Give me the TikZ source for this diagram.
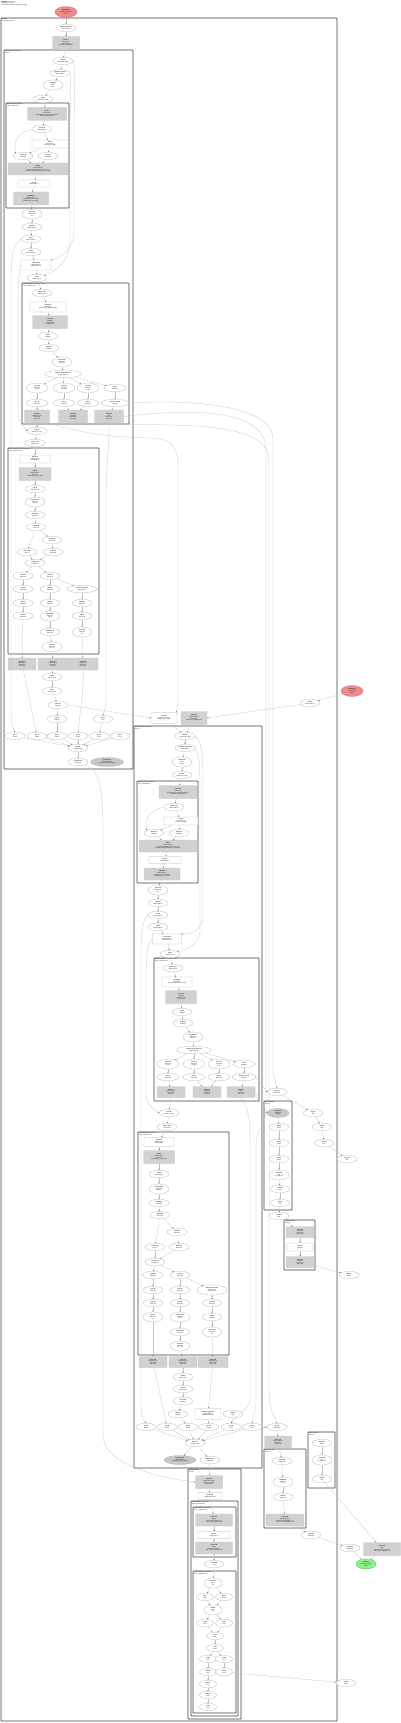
\documentclass[tikz,border=0pt]{standalone}
\usepackage{fontspec}
\setmainfont{Liberation Sans}
\usetikzlibrary{shapes.geometric,arrows.meta}
\definecolor{redfill}{HTML}{F08A8A}
\definecolor{redline}{HTML}{C85A5A}
\definecolor{grnfill}{HTML}{8CF08C}
\definecolor{grnline}{HTML}{4CAA4C}
\definecolor{boxline}{HTML}{B4B4B4}
\newcommand\fs{\fontsize{1.3}{1.6}\selectfont}
\newcommand\lb[2]{\textbf{#1}\\#2}
\newcommand\lc[3]{\textbf{#1}\\#2\\#3}
\newcommand\nE[4][]{\node[ell,#1] (#2) at (#3) {#4};}
\newcommand\nW[4][]{\node[wbox,#1] (#2) at (#3) {#4};}
\newcommand\nG[4][]{\node[gbox,#1] (#2) at (#3) {#4};}
\newcommand\clu[5]{\draw[clus] (#2) rectangle (#3); \node[clab] (#1) at (#2) {#4\\#5};}
\newcommand\ed[2]{\draw[edge] (#1) -- (#2);}
\begin{document}
\begin{tikzpicture}[x=1pt,y=-1pt,
  ell/.style={ellipse,draw=black!35,line width=0.2pt,minimum width=20pt,minimum height=7.5pt,inner sep=0pt,align=center,font=\fs,fill=white},
  e3/.style={minimum height=10pt},
  wbox/.style={rectangle,rounded corners=0.3pt,draw=boxline,line width=0.25pt,inner sep=0.4pt,align=center,font=\fs,fill=white},
  gbox/.style={rectangle,rounded corners=0.3pt,draw=black!22,fill=black!18,line width=0.2pt,inner sep=0.4pt,align=center,font=\fs},
  gell/.style={fill=black!22},
  redn/.style={fill=redfill,draw=redline,minimum width=22pt,minimum height=11pt},
  grnn/.style={fill=grnfill,draw=grnline,minimum width=20pt,minimum height=10pt},
  clus/.style={draw=black!75,line width=0.55pt,rounded corners=0.4pt},
  clab/.style={anchor=north west,inner sep=0.8pt,align=left,font=\fs},
  edge/.style={draw=black!25,line width=0.22pt,-{Stealth[length=1.4pt,width=1.1pt,color=black!60]}},
]
\fill[white] (0,0) rectangle (400,1723);
\useasboundingbox (0,0) rectangle (400,1723);

\node[clab,inner sep=1pt] (hdr) at (0,0) {\textbf{HloModule} jit\_train\_step\\Computation main.84\\entry computation layout: (f32[64,128], s32[])};

% clusters
\clu{lo}{1,18}{337,1721}{\textbf{main.84}}{Computation main.84}
\clu{lA}{4,50}{133,769}{Subcomputation for while.3}{body.12}
\clu{lA1}{6,103}{69,208}{Subcomputation for fusion.7}{fused\_computation.7}
\clu{lA2}{22,283}{129,424}{Subcomputation for reduce.21 / fusion}{fused\_computation.21}
\clu{lA3}{8,448}{99,654}{Subcomputation for fusion.30 (kLoop)}{fused\_computation.30}
\clu{lB}{134,726}{262,1468}{Subcomputation for while.44}{body.44}
\clu{lB1}{137,781}{198,883}{Subcomputation for fusion.47}{fused\_computation.47}
\clu{lB2}{154,958}{259,1101}{Subcomputation for reduce.61 / fusion}{fused\_computation.61}
\clu{lB3}{138,1132}{229,1355}{Subcomputation for fusion.70}{fused\_computation.70}
\clu{lC}{188,1469}{241,1719}{Subcomputation}{cond.80}
\clu{lC1}{191,1501}{238,1716}{Subcomputation for fusion.81}{fused\_computation.81}
\clu{lC1a}{193,1507}{236,1557}{Subcomputation for fusion.82}{fused\_computation.82}
\clu{lC1b}{193,1571}{236,1713}{Subcomputation for reduce.83}{fused\_computation.83}
\clu{lD}{264,1101}{292,1210}{Subcomputation}{fusion.72}
\clu{lE}{284,1220}{315,1270}{Subcomputation}{fusion.74}
\clu{lF}{264,1449}{306,1528}{Subcomputation}{fusion.76}
\clu{lG}{308,1432}{335,1488}{Subcomputation}{fusion.78}

% top
\nE[redn]{p0}{66,12}{\lc{Parameter 0}{(f32[64,128], s32[])}{index=0}}
\nE{n1}{66,28}{\lb{get-tuple-element.1}{f32[64,128]\{1,0\}}}
\nG[minimum width=27pt,minimum height=13pt]{g1}{66,43}{\textbf{fusion.2}\\kind=kLoop\\f32[64,128]\{1,0\}\\calls fused\_computation.2}

% cluster A
\nE{a1}{63,61}{\lb{while.3}{(f32[64,128], s32[])}}
\nE{a2}{60,73}{\lb{get-tuple-element.4}{f32[64,128]\{1,0\}}}
\nE[e3]{a3}{53,85}{\lc{constant.5}{s32[] 1}{index=1}}
\nE{a4}{43,99}{\lb{tuple.6}{(f32[64,128], s32[])}}
\nG[minimum width=39pt,minimum height=13pt]{a5}{47,114}{\textbf{fusion.7}\\kind=kLoop\\f32[64,128]\{1,0\} dynamic-update-slice\\calls fused\_computation.7}
\nE{a6}{42,129}{\lb{param\_0.8}{f32[64,128]\{1,0\}}}
\nW[minimum width=36pt,minimum height=8pt]{a7}{50,144}{\textbf{slice.9}\\f32[1,128]\{1,0\}\\slice=\{[0:1], [0:128]\}}
\nE{a8}{23,156}{\lb{bitcast.10}{f32[128]\{0\}}}
\nE{a9}{48,156}{\lb{bitcast.11}{f32[128]\{0\}}}
\nG[minimum width=60pt,minimum height=12pt]{a10}{38,169}{\textbf{add.12}\\f32[64,128]\{1,0\}\\broadcast(f32[128]), dims=\{1\} add(x, y)\\metadata=\{op\_type=AddV2 op\_name=add\}}
\nW[minimum width=32pt,minimum height=7pt]{a11}{34,183.5}{\textbf{copy.13}\\f32[64,128]\{0,1\}}
\nG[minimum width=35pt,minimum height=13pt]{a12}{31,198.5}{\textbf{multiply.14}\\f32[64,128]\{1,0\}\\multiply(param\_1, constant)\\metadata=\{op\_name=mul\}}
\nE[e3]{a13}{32,214}{\lc{convert.15}{f32[64,128]}{s32}}
\nE{a14}{32,227}{\lb{negate.16}{f32[64,128]\{1,0\}}}
\nE{a15}{31,239}{\lb{exp.17}{f32[64,128]\{1,0\}}}
\nE{a16}{31,252}{\lb{log.18}{f32[64,128]\{1,0\}}}
\nW[minimum width=30pt,minimum height=10pt]{a17}{36,265}{\textbf{transpose.19}\\f32[128,64]\{1,0\}\\dimensions=\{1,0\}}
\nE{a18}{37,278}{\lb{dot.20}{f32[64,64]\{1,0\}}}
\nE{b1}{42,293}{\lb{param\_0.22}{f32[64,64]\{1,0\}}}
\nW[minimum width=36pt,minimum height=10pt]{b2}{48,307}{\textbf{reshape.23}\\f32[4096]\{0\}\\metadata=\{op\_name=reshape\}}
\nG[minimum width=35pt,minimum height=13pt]{b3}{50,322}{\textbf{reduce.24}\\f32[64]\{0\}\\dimensions=\{1\}\\to\_apply=add}
\nE{b4}{48,336}{\lb{sqrt.25}{f32[64]\{0\}}}
\nE{b5}{49,348}{\lb{divide.26}{f32[64]\{0\}}}
\nE[e3]{b6}{62,362}{\lc{broadcast.27}{f32[64,64]}{dims=\{0\}}}
\nE[minimum width=37pt]{b7}{63,374}{\lb{compare.28 direction=GT}{pred[64,64]\{1,0\}}}
\nE[e3,minimum width=22pt]{b8}{37,388}{\lc{select.29}{f32[64,64]}{on\_true}}
\nE[e3,minimum width=22pt]{b9}{64,388}{\lc{select.30}{f32[64,64]}{on\_false}}
\nE[e3,minimum width=22pt]{b10}{88,388}{\lc{select.31}{f32[64,64]}{mask}}
\nE[minimum width=22pt]{b11}{115,388}{\lb{iota.32}{s32[64]\{0\}}}
\nE[minimum width=22pt]{b12}{37,403}{\lb{max.33}{f32[64,64]}}
\nE[minimum width=22pt]{b13}{64,403}{\lb{min.34}{f32[64,64]}}
\nE[minimum width=22pt]{b14}{88,403}{\lb{abs.35}{f32[64,64]}}
\nE[minimum width=28pt]{b15}{115,403}{\lb{dynamic-slice.36}{s32[1]\{0\}}}
\nG[minimum width=25pt,minimum height=13pt]{b16}{37,416.5}{\textbf{fusion.37}\\f32[64,64]\{1,0\}\\kind=kLoop\\calls fc.37}
\nG[minimum width=29pt,minimum height=13pt]{b17}{73,416.5}{\textbf{fusion.38}\\f32[64]\{0\}\\kind=kInput\\calls fc.38}
\nG[minimum width=29pt,minimum height=13pt]{b18}{109,416.5}{\textbf{fusion.39}\\s32[]\\kind=kLoop\\calls fc.39}
\nE{a19}{37,431}{\lb{tuple.40}{(f32[64,64], s32[])}}
\nE{a20}{35,443}{\lb{param\_0.41}{(f32[64,64])}}
\nW[minimum width=30pt,minimum height=8pt]{c1}{35,459}{\textbf{bitcast.42}\\f32[64,64]\{1,0\}\\bitcast(param)}
\nG[minimum width=32pt,minimum height=13pt]{c2}{35,474}{\textbf{add.43}\\f32[64,64]\{1,0\}\\add(x, y)\\metadata=\{op\_name=add\}}
\nE{c3}{35,489}{\lb{exp.44}{f32[64,64]\{1,0\}}}
\nE[e3]{c4}{35,502}{\lc{broadcast.45}{f32[64,64]}{dims=\{\}}}
\nE{c5}{35,515}{\lb{multiply.46}{f32[64,64]}}
\nE{c6}{36,527}{\lb{subtract.47}{f32[64,64]}}
\nE{c7}{52,540}{\lb{negate.48}{f32[64,64]}}
\nE{c8}{27,552}{\lb{constant.49}{f32[] 0.5}}
\nE{c9}{53,552}{\lb{power.50}{f32[64,64]}}
\nE{c10}{35,563}{\lb{compare.51}{pred[64,64]}}
\nE{c11}{23,576}{\lb{select.52}{f32[64,64]}}
\nE{c12}{50,576}{\lb{select.53}{f32[64,64]}}
\nE{c13}{23,589}{\lb{tanh.54}{f32[64,64]}}
\nE{c14}{50,589}{\lb{tanh.55}{f32[64,64]}}
\nE[minimum width=30pt]{c15}{82,589}{\lb{reduce-precision.56}{f32[64,64]\{1,0\}}}
\nE{c16}{23,603}{\lb{rsqrt.57}{f32[64,64]}}
\nE{c17}{50,603}{\lb{rsqrt.58}{f32[64,64]}}
\nE{c18}{82,603}{\lb{round.59}{f32[64,64]}}
\nE{c19}{23,616}{\lb{floor.60}{f32[64,64]}}
\nE[e3]{c20}{50,616}{\lc{maximum.61}{f32[64,64]}{clamp}}
\nE{c21}{82,616}{\lb{ceil.62}{f32[64,64]}}
\nE{c22}{50,632}{\lb{minimum.63}{f32[64,64]}}
\nE[e3]{c23}{82,632}{\lc{convert.64}{s32[64,64]}{f32}}
\nE[e3]{c24}{52,647}{\lc{clamp.65}{f32[64,64]}{(lo, x, hi)}}
\nG[minimum width=28pt,minimum height=12pt]{d1}{22,664}{\textbf{fusion.66}\\f32[64,64]\{1,0\}\\kind=kLoop\\calls fc.66}
\nG[minimum width=30pt,minimum height=12pt]{d2}{53,664}{\textbf{fusion.67}\\f32[64,64]\{1,0\}\\kind=kLoop\\calls fc.67}
\nG[minimum width=30pt,minimum height=12pt]{d3}{83,664}{\textbf{fusion.68}\\f32[64,64]\{1,0\}\\kind=kLoop\\calls fc.68}
\nE{d4}{52,677}{\lb{add.69}{f32[64,64]\{1,0\}}}
\nE{d5}{52,691}{\lb{sub.70}{f32[64,64]\{1,0\}}}
\nE{d6}{58,705}{\lb{reduce.71}{f32[64]\{0\}}}
\nE{d7}{57,719}{\lb{sqrt.72}{f32[64]\{0\}}}
\nE{d8}{103,719}{\lb{add.73}{s32[]}}
\nE{e1}{15,736}{\lb{gte.74}{f32[64]}}
\nE{e2}{37,736}{\lb{gte.75}{f32[64]}}
\nE{e3}{57,736}{\lb{gte.76}{f32[64]}}
\nE{e4}{78,736}{\lb{gte.77}{f32[64]}}
\nE{e5}{99,736}{\lb{gte.78}{s32[]}}
\nE{e6}{120,736}{\lb{gte.79}{s32[]}}
\nE{e7}{78,748}{\lb{tuple.80}{(f32[64], s32[])}}
\nE{e8}{78,762}{\lb{transpose.81}{f32[64,128]}}
\nE[gell,minimum width=33pt,minimum height=9pt]{e9}{107,762}{\lc{parameter.82}{f32[64,128]\{1,0\}}{(f32[64,128], s32[], f32[64])}}

% middle
\nW[minimum width=26pt,minimum height=11pt]{m1}{164,718}{\textbf{tuple.85}\\(f32[64,128], s32[])\\tuple(gte.0, gte.1, gte.2)}
\nG[minimum width=26pt,minimum height=13pt]{m2}{194,718}{\textbf{fusion.86}\\f32[64,128]\{1,0\}\\kind=kLoop\\calls fused\_computation.86}
\nE{m3}{310,703}{\lb{copy.87}{f32[64,128]\{1,0\}}}
\nE[redn]{p1}{352,691}{\lc{Parameter 1}{f32[64,128]}{index=1}}

% cluster B
\nE{f1}{185,736}{\lb{while.44}{(f32[64,128], s32[])}}
\nE{f2}{185,748}{\lb{get-tuple-element.45}{f32[64,128]\{1,0\}}}
\nE[e3]{f3}{182,762}{\lc{constant.46}{s32[] 1}{index=1}}
\nE{f4}{182,775}{\lb{tuple.47}{(f32[64,128], s32[])}}
\nG[minimum width=38pt,minimum height=13pt]{f5}{178,792}{\textbf{fusion.48}\\kind=kLoop\\f32[64,128]\{1,0\} dynamic-update-slice\\calls fused\_computation.48}
\nE{f6}{174,807}{\lb{param\_0.49}{f32[64,128]\{1,0\}}}
\nW[minimum width=34pt,minimum height=8pt]{f7}{181,821}{\textbf{slice.50}\\f32[1,128]\{1,0\}\\slice=\{[0:1], [0:128]\}}
\nE{f8}{154,833}{\lb{bitcast.51}{f32[128]\{0\}}}
\nE{f9}{179,833}{\lb{bitcast.52}{f32[128]\{0\}}}
\nG[minimum width=58pt,minimum height=12pt]{f10}{168,846}{\textbf{add.53}\\f32[64,128]\{1,0\}\\broadcast(f32[128]), dims=\{1\} add(x, y)\\metadata=\{op\_type=AddV2 op\_name=add\}}
\nW[minimum width=32pt,minimum height=7pt]{f11}{165,860}{\textbf{copy.54}\\f32[64,128]\{0,1\}}
\nG[minimum width=36pt,minimum height=12pt]{f12}{162,874}{\textbf{multiply.55}\\f32[64,128]\{1,0\}\\multiply(param\_1, constant)\\metadata=\{op\_name=mul\}}
\nE[e3]{f13}{158,890}{\lc{convert.56}{f32[64,128]}{s32}}
\nE{f14}{158,903}{\lb{negate.57}{f32[64,128]\{1,0\}}}
\nE{f15}{158,915}{\lb{exp.58}{f32[64,128]\{1,0\}}}
\nE{f16}{158,927}{\lb{log.59}{f32[64,128]\{1,0\}}}
\nW[minimum width=29pt,minimum height=10pt]{f17}{167,939}{\textbf{transpose.60}\\f32[128,64]\{1,0\}\\dimensions=\{1,0\}}
\nE{f18}{170,954}{\lb{dot.61}{f32[64,64]\{1,0\}}}
\nE{h1}{173,968}{\lb{param\_0.62}{f32[64,64]\{1,0\}}}
\nW[minimum width=30pt,minimum height=10pt]{h2}{177,982}{\textbf{reshape.63}\\f32[4096]\{0\}\\metadata=\{op\_name=reshape\}}
\nG[minimum width=31pt,minimum height=13pt]{h3}{181,997}{\textbf{reduce.64}\\f32[64]\{0\}\\dimensions=\{1\}\\to\_apply=add}
\nE{h4}{182,1012}{\lb{sqrt.65}{f32[64]\{0\}}}
\nE{h5}{183,1023}{\lb{divide.66}{f32[64]\{0\}}}
\nE[e3]{h6}{193,1037}{\lc{broadcast.67}{f32[64,64]}{dims=\{0\}}}
\nE[minimum width=35pt]{h7}{194,1050}{\lb{compare.68 direction=GT}{pred[64,64]\{1,0\}}}
\nE[e3,minimum width=22pt]{h8}{168,1064}{\lc{select.69}{f32[64,64]}{on\_true}}
\nE[e3,minimum width=22pt]{h9}{194,1064}{\lc{select.70}{f32[64,64]}{on\_false}}
\nE[e3,minimum width=22pt]{h10}{219,1064}{\lc{select.71}{f32[64,64]}{mask}}
\nE[minimum width=22pt]{h11}{244,1064}{\lb{iota.72}{s32[64]\{0\}}}
\nE[minimum width=22pt]{h12}{168,1077}{\lb{max.73}{f32[64,64]}}
\nE[minimum width=22pt]{h13}{194,1077}{\lb{min.74}{f32[64,64]}}
\nE[minimum width=22pt]{h14}{219,1077}{\lb{abs.75}{f32[64,64]}}
\nE[minimum width=24pt]{h15}{244,1077}{\lb{dynamic-slice.76}{s32[1]\{0\}}}
\nG[minimum width=28pt,minimum height=11pt]{h16}{171,1092}{\textbf{fusion.77}\\f32[64,64]\{1,0\}\\kind=kLoop\\calls fc.77}
\nG[minimum width=28pt,minimum height=11pt]{h17}{207,1092}{\textbf{fusion.78}\\f32[64]\{0\}\\kind=kInput\\calls fc.78}
\nG[minimum width=28pt,minimum height=11pt]{h18}{241,1092}{\textbf{fusion.79}\\s32[]\\kind=kLoop\\calls fc.79}
\nE{i1}{169,1113}{\lb{tuple.80}{(f32[64,64], s32[])}}
\nE{i2}{167,1127}{\lb{param\_0.81}{(f32[64,64])}}
\nW[minimum width=30pt,minimum height=9pt]{j1}{159,1142}{\textbf{bitcast.82}\\f32[64,64]\{1,0\}\\bitcast(param)}
\nG[minimum width=31pt,minimum height=13pt]{j2}{159,1157}{\textbf{add.83}\\f32[64,64]\{1,0\}\\add(x, y)\\metadata=\{op\_name=add\}}
\nE{j3}{159,1174}{\lb{exp.84}{f32[64,64]\{1,0\}}}
\nE[e3]{j4}{159,1189}{\lc{broadcast.85}{f32[64,64]}{dims=\{\}}}
\nE{j5}{159,1203}{\lb{multiply.86}{f32[64,64]}}
\nE{j6}{160,1215}{\lb{subtract.87}{f32[64,64]}}
\nE{j7}{177,1232}{\lb{negate.88}{f32[64,64]}}
\nE{j8}{155,1247}{\lb{constant.89}{f32[] 0.5}}
\nE{j9}{179,1247}{\lb{power.90}{f32[64,64]}}
\nE{j10}{155,1262}{\lb{compare.91}{pred[64,64]}}
\nE{j11}{153,1275}{\lb{select.92}{f32[64,64]}}
\nE{j12}{180,1275}{\lb{select.93}{f32[64,64]}}
\nE{j13}{153,1290}{\lb{tanh.94}{f32[64,64]}}
\nE{j14}{180,1290}{\lb{tanh.95}{f32[64,64]}}
\nE[e3,minimum width=30pt]{j15}{212,1290}{\lc{reduce-precision.96}{f32[64,64]\{1,0\}}{exp=8 mant=7}}
\nE{j16}{153,1303}{\lb{rsqrt.97}{f32[64,64]}}
\nE{j17}{180,1303}{\lb{rsqrt.98}{f32[64,64]}}
\nE{j18}{212,1303}{\lb{round.99}{f32[64,64]}}
\nE[e3]{j19}{153,1317}{\lc{floor.100}{f32[64,64]}{f32}}
\nE[e3]{j20}{180,1317}{\lc{maximum.101}{f32[64,64]}{clamp}}
\nE{j21}{212,1317}{\lb{ceil.102}{f32[64,64]}}
\nE{j22}{180,1332}{\lb{minimum.103}{f32[64,64]}}
\nE[e3]{j23}{212,1332}{\lc{convert.104}{s32[64,64]}{f32}}
\nE[e3]{j24}{180,1346}{\lc{clamp.105}{f32[64,64]}{(lo, x, hi)}}
\nG[minimum width=28pt,minimum height=11pt]{k1}{153,1362}{\textbf{fusion.106}\\f32[64,64]\{1,0\}\\kind=kLoop\\calls fc.106}
\nG[minimum width=28pt,minimum height=11pt]{k2}{183,1362}{\textbf{fusion.107}\\f32[64,64]\{1,0\}\\kind=kLoop\\calls fc.107}
\nG[minimum width=30pt,minimum height=11pt]{k3}{213,1362}{\textbf{fusion.108}\\f32[64,64]\{1,0\}\\kind=kLoop\\calls fc.108}
\nE{k4}{183,1377}{\lb{add.109}{f32[64,64]\{1,0\}}}
\nE{k5}{183,1389}{\lb{sub.110}{f32[64,64]\{1,0\}}}
\nE{k6}{183,1401}{\lb{reduce.111}{f32[64]\{0\}}}
\nE{k7}{178,1414}{\lb{sqrt.112}{f32[64]\{0\}}}
\nW[minimum width=26pt,minimum height=11pt]{k8}{208,1414}{\textbf{dynamic-update.113}\\f32[64,128]\{1,0\}\\update(operand, idx)}
\nE{k9}{233,1414}{\lb{add.114}{s32[]}}
\nE{k10}{146,1427}{\lb{gte.115}{f32[64]}}
\nE{k11}{167,1427}{\lb{gte.116}{f32[64]}}
\nE{k12}{188,1427}{\lb{gte.117}{f32[64]}}
\nE{k13}{209,1427}{\lb{gte.118}{f32[64]}}
\nE{k14}{231,1427}{\lb{gte.119}{s32[]}}
\nE{k15}{252,1427}{\lb{gte.120}{s32[]}}
\nE{k16}{195,1443}{\lb{tuple.121}{(f32[64], s32[])}}
\nE[gell,minimum width=32pt,minimum height=9pt]{k17}{180,1460}{\lc{parameter.122}{f32[64,128]\{1,0\}}{(f32[64,128], s32[], f32[64])}}
\nE{k18}{210,1460}{\lb{transpose.123}{f32[64,128]}}

% right column
\nE{r1}{277,1092}{\lb{copy.124}{f32[64,64]}}
\nE[gell,minimum width=22pt,minimum height=9pt]{r2}{278,1113}{\lc{param.125}{f32[64,64]}{(s32[])}}
\nE{r3}{279,1127}{\lb{add.126}{f32[64]}}
\nE{r4}{279,1143}{\lb{mul.127}{f32[64]}}
\nE{r5}{279,1159}{\lb{div.128}{f32[64]}}
\nE[e3]{r6}{279,1175}{\lc{reduce.129}{f32[]}{to\_apply=add}}
\nE{r7}{280,1189}{\lb{sqrt.130}{f32[]}}
\nE{r8}{280,1203}{\lb{exp.131}{f32[]}}
\nE{r9}{279,1216}{\lb{copy.132}{f32[]}}
\nG[minimum width=28pt,minimum height=11pt]{r10}{300,1232}{\textbf{fusion.133}\\f32[64]\{0\}\\kind=kLoop\\calls fc.133}
\nW[minimum width=26pt,minimum height=8pt]{r11}{300,1247}{\textbf{slice.134}\\f32[64]\{0\}}
\nG[minimum width=28pt,minimum height=11pt]{r12}{300,1262}{\textbf{fusion.135}\\f32[64]\{0\}\\kind=kLoop\\calls fc.135}
\nE{r13}{349,1275}{\lb{add.136}{f32[64]}}
\nE{s1}{313,1113}{\lb{log.137}{f32[]}}
\nE{s2}{322,1127}{\lb{neg.138}{f32[]}}
\nE{s3}{324,1143}{\lb{abs.139}{f32[]}}
\nE{s4}{347,1159}{\lb{copy.140}{f32[]}}
\nE{t1}{277,1427}{\lb{gte.141}{f32[64,128]}}
\nG[minimum width=27pt,minimum height=12pt]{t2}{278,1442}{\textbf{fusion.142}\\f32[64,128]\{1,0\}\\kind=kLoop\\calls fc.142}
\nE{t3}{282,1461}{\lb{param.143}{f32[64,128]}}
\nE[e3]{t4}{283,1482}{\lc{multiply.144}{f32[64,128]}{(x, y)}}
\nE{t5}{283,1497}{\lb{add.145}{f32[64,128]}}
\nG[minimum width=38pt,minimum height=12pt]{t6}{285,1520}{\textbf{fusion.146}\\f32[64,128]\{1,0\}\\kind=kLoop add(multiply(x, y), z)\\calls fused\_computation.146}
\nE{u1}{322,1443}{\lb{param.147}{f32[64]}}
\nE[e3]{u2}{322,1460}{\lc{reduce.148}{f32[]}{to\_apply=max}}
\nE{u3}{322,1479}{\lb{sqrt.149}{f32[]}}
\nE{v1}{311,1535}{\lb{copy.150}{f32[64,128]}}
\nE{v2}{350,1548}{\lb{bitcast.151}{f32[64,128]}}
\nG[minimum width=37pt,minimum height=13pt]{v3}{382,1549}{\textbf{fusion.152}\\f32[]\\kind=kLoop reduce(sqrt(x))\\calls fused\_computation.152}
\nE[grnn]{root}{366,1564}{\lc{tuple.153}{(f32[64,128], f32[])}{ROOT}}

% cluster C
\nG[minimum width=27pt,minimum height=13pt]{w1}{209,1482}{\textbf{while.154}\\(f32[64,128], s32[])\\condition=cond.80\\body=body.44}
\nW[minimum width=24pt,minimum height=7pt]{w2}{210,1496}{\textbf{param.155}\\(f32[64,128], s32[])}
\nG[minimum width=37pt,minimum height=12pt]{w3}{214,1520}{\textbf{fusion.156}\\pred[]\\kind=kLoop compare(x, y)\\calls fused\_computation.156}
\nW[minimum width=32pt,minimum height=7pt]{w4}{214,1535}{\textbf{gte.157}\\s32[] index=1}
\nG[minimum width=37pt,minimum height=12pt]{w5}{214,1548}{\textbf{fusion.158}\\pred[]\\kind=kLoop and(x, y)\\calls fused\_computation.158}
\nE{w6}{214,1564}{\lb{param.159}{s32[]}}
\nE[e3,minimum width=18pt]{x1}{213,1583}{\lc{reduce.160}{pred[]}{and}}
\nE[minimum width=17pt]{x2}{205,1597}{\lb{lt.161}{pred[]}}
\nE[minimum width=17pt]{x3}{224,1597}{\lb{gt.162}{pred[]}}
\nE[e3,minimum width=18pt]{x4}{213,1610}{\lc{and.163}{pred[]}{(x, y)}}
\nE[minimum width=17pt]{x5}{205,1623}{\lb{not.164}{pred[]}}
\nE[minimum width=17pt]{x6}{224,1623}{\lb{or.165}{pred[]}}
\nE[minimum width=17pt]{x7}{215,1636}{\lb{eq.166}{pred[]}}
\nE[minimum width=17pt]{x8}{215,1648}{\lb{ne.167}{pred[]}}
\nE[minimum width=17pt]{x9}{208,1659}{\lb{cvt.168}{s32[]}}
\nE[minimum width=17pt]{x10}{224,1659}{\lb{cst.169}{s32[]}}
\nE[minimum width=17pt]{x11}{208,1672}{\lb{add.170}{s32[]}}
\nE[minimum width=17pt]{x12}{224,1672}{\lb{sub.171}{s32[]}}
\nE[minimum width=17pt]{x13}{208,1684}{\lb{mul.172}{s32[]}}
\nE[minimum width=17pt]{x14}{208,1695}{\lb{cmp.173}{pred[]}}
\nE[minimum width=17pt]{x15}{208,1707}{\lb{sel.174}{s32[]}}
\nE{y1}{346,1683}{\lb{cst.175}{s32[]}}

% ---------- edges ----------
\ed{p0}{n1}\ed{n1}{g1}\ed{g1}{a1}\ed{a1}{a2}\ed{a2}{a3}\ed{a3}{a4}\ed{a4}{a5}
\ed{a5}{a6}\ed{a6}{a7}\ed{a7}{a8}\ed{a7}{a9}\ed{a8}{a10}\ed{a9}{a10}\ed{a10}{a11}
\ed{a11}{a12}\ed{a12}{a13}\ed{a13}{a14}\ed{a14}{a15}\ed{a15}{a16}\ed{a16}{a17}
\ed{a17}{a18}\ed{a18}{b1}\ed{b1}{b2}\ed{b2}{b3}\ed{b3}{b4}\ed{b4}{b5}\ed{b5}{b6}
\ed{b6}{b7}\ed{b7}{b8}\ed{b7}{b9}\ed{b7}{b10}\ed{b7}{b11}\ed{b8}{b12}\ed{b9}{b13}
\ed{b10}{b14}\ed{b11}{b15}\ed{b12}{b16}\ed{b13}{b17}\ed{b14}{b17}\ed{b15}{b18}
\ed{b16}{a19}\ed{a19}{a20}\ed{a20}{c1}\ed{c1}{c2}\ed{c2}{c3}\ed{c3}{c4}\ed{c4}{c5}
\ed{c5}{c6}\ed{c6}{c7}\ed{c6}{c8}\ed{c7}{c9}\ed{c8}{c10}\ed{c9}{c10}\ed{c10}{c11}
\ed{c10}{c12}\ed{c11}{c13}\ed{c12}{c14}\ed{c12}{c15}\ed{c13}{c16}\ed{c14}{c17}
\ed{c15}{c18}\ed{c16}{c19}\ed{c17}{c20}\ed{c18}{c21}\ed{c20}{c22}\ed{c21}{c23}
\ed{c22}{c24}\ed{c19}{d1}\ed{c24}{d2}\ed{c23}{d3}\ed{d2}{d4}\ed{d4}{d5}\ed{d5}{d6}
\ed{d6}{d7}\ed{d7}{e3}\ed{d8}{e5}\ed{e1}{e7}\ed{e2}{e7}\ed{e3}{e7}\ed{e4}{e7}
\ed{e5}{e7}\ed{e6}{e7}\ed{e7}{e8}\ed{d1}{e2}
\draw[edge] (d3) .. controls (84,690) and (80,710) .. (e4);
\draw[edge] (a6.west) .. controls (14,134) and (14,145) .. (a8.north west);
\draw[edge] (a1.east) .. controls (76,70) and (74,90) .. (74,140) -- (74,230) .. controls (74,250) and (60,258) .. (a17.north east);
\draw[edge] (a2.east) .. controls (71,82) and (70,95) .. (70,150) -- (70,240) .. controls (70,262) and (55,272) .. (a18.north east);
\draw[edge] (a15.west) .. controls (12,245) and (11,260) .. (11,290) -- (11,710) .. controls (11,722) and (13,728) .. (e1.north);
\draw[edge] (a17.west) .. controls (18,275) and (18,290) .. (18,310) -- (18,410) .. controls (18,424) and (25,428) .. (a19.west);
\draw[edge] (b18.south) .. controls (110,440) and (106,460) .. (106,500) -- (106,700) .. controls (106,708) and (104,712) .. (d8.north);
\draw[edge] (b16.south east) .. controls (90,436) and (120,437) .. (150,438) .. controls (172,439) and (178,445) .. (178,470) -- (178,700) .. controls (178,708) and (176,711) .. (m1.north east);
\draw[edge] (d6.east) -- (m1.west);
\draw[edge] (p1) -- (m3);
\draw[edge] (m3) -- (m2.east);
\ed{m1}{f1}\ed{m2}{f1}
\draw[edge] (b15.east) .. controls (160,401) and (273,398) .. (273,440) -- (273,1070) .. controls (273,1078) and (276,1082) .. (r1.north);
\draw[edge] (b18.east) .. controls (180,410) and (266,405) .. (266,450) -- (266,1110) .. controls (266,1125) and (256,1128) .. (256,1145) -- (256,1400) .. controls (256,1410) and (253,1416) .. (k15.north);
\draw[edge] (b17.south east) .. controls (150,428) and (269,415) .. (269,460) -- (269,1390) .. controls (269,1410) and (274,1415) .. (t1.north);
% B
\ed{f1}{f2}\ed{f2}{f3}\ed{f3}{f4}\ed{f4}{f5}\ed{f5}{f6}\ed{f6}{f7}\ed{f7}{f8}\ed{f7}{f9}
\ed{f8}{f10}\ed{f9}{f10}\ed{f10}{f11}\ed{f11}{f12}\ed{f12}{f13}\ed{f13}{f14}\ed{f14}{f15}
\ed{f15}{f16}\ed{f16}{f17}\ed{f17}{f18}\ed{f18}{h1}\ed{h1}{h2}\ed{h2}{h3}\ed{h3}{h4}
\ed{h4}{h5}\ed{h5}{h6}\ed{h6}{h7}\ed{h7}{h8}\ed{h7}{h9}\ed{h7}{h10}\ed{h7}{h11}
\ed{h8}{h12}\ed{h9}{h13}\ed{h10}{h14}\ed{h11}{h15}\ed{h12}{h16}\ed{h13}{h17}\ed{h14}{h17}
\ed{h15}{h18}\ed{h16}{i1}\ed{i1}{i2}\ed{i2}{j1}\ed{j1}{j2}\ed{j2}{j3}\ed{j3}{j4}\ed{j4}{j5}
\ed{j5}{j6}\ed{j6}{j7}\ed{j6}{j8}\ed{j7}{j9}\ed{j8}{j10}\ed{j9}{j10}\ed{j10}{j11}\ed{j10}{j12}
\ed{j11}{j13}\ed{j12}{j14}\ed{j12}{j15}\ed{j13}{j16}\ed{j14}{j17}\ed{j15}{j18}\ed{j16}{j19}
\ed{j17}{j20}\ed{j18}{j21}\ed{j20}{j22}\ed{j21}{j23}\ed{j22}{j24}\ed{j19}{k1}\ed{j24}{k2}
\ed{j23}{k3}\ed{k2}{k4}\ed{k4}{k5}\ed{k5}{k6}\ed{k6}{k7}\ed{k1}{k11}\ed{k3}{k8}
\ed{k7}{k12}\ed{k8}{k13}\ed{k9}{k14}
\ed{k10}{k16}\ed{k11}{k16}\ed{k12}{k16}\ed{k13}{k16}\ed{k14}{k16}\ed{k15}{k16}
\ed{k16}{k17}\ed{k16}{k18}
\draw[edge] (f6.west) .. controls (145,812) and (145,822) .. (f8.north west);
\draw[edge] (f1.east) .. controls (203,742) and (203,760) .. (203,790) -- (203,915) .. controls (203,930) and (190,935) .. (f17.north east);
\draw[edge] (f2.east) .. controls (200,754) and (200,770) .. (200,800) -- (200,930) .. controls (200,945) and (185,950) .. (f18.north east);
\draw[edge] (f15.west) .. controls (142,920) and (141,935) .. (141,960) -- (141,1405) .. controls (141,1415) and (143,1420) .. (k10.north);
\draw[edge] (f17.west) .. controls (146,945) and (146,960) .. (146,990) -- (146,1095) .. controls (146,1105) and (155,1110) .. (i1.west);
\draw[edge] (h18.south) .. controls (250,1110) and (250,1125) .. (250,1150) -- (250,1400) .. controls (250,1408) and (240,1412) .. (k14.north);
\draw[edge] (h15.east) -- (r1.west);
\draw[edge] (h18.east) .. controls (258,1100) and (262,1106) .. (r2.west);
% right column
\ed{r1}{s1}\ed{s1}{s2}\ed{s2}{s3}\ed{s3}{s4}
\ed{r2}{r3}\ed{r3}{r4}\ed{r4}{r5}\ed{r5}{r6}\ed{r6}{r7}\ed{r7}{r8}\ed{r8}{r9}
\ed{r9}{r10}\ed{r10}{r11}\ed{r11}{r12}\ed{r12}{r13}
\ed{k15}{t1}\ed{t1}{t2}\ed{t2}{t3}\ed{t3}{t4}\ed{t4}{t5}\ed{t5}{t6}\ed{t6}{v1}\ed{v1}{v2}
\ed{v2}{root}\ed{v3}{root}\ed{u1}{u2}\ed{u2}{u3}\ed{u3}{v3}
% C
\draw[edge] (e8.south east) .. controls (100,770) and (103,790) .. (103,830) -- (103,1435) .. controls (103,1465) and (160,1478) .. (w1.west);
\ed{k18}{w1}\ed{w1}{w2}\ed{w2}{w3}\ed{w3}{w4}\ed{w4}{w5}\ed{w5}{w6}\ed{w6}{x1}
\ed{x1}{x2}\ed{x1}{x3}\ed{x2}{x4}\ed{x3}{x4}\ed{x4}{x5}\ed{x4}{x6}\ed{x5}{x7}\ed{x6}{x7}
\ed{x7}{x8}\ed{x8}{x9}\ed{x8}{x10}\ed{x9}{x11}\ed{x10}{x12}\ed{x11}{x13}\ed{x13}{x14}
\ed{x14}{x15}\ed{x12}{y1}
\end{tikzpicture}
\end{document}
